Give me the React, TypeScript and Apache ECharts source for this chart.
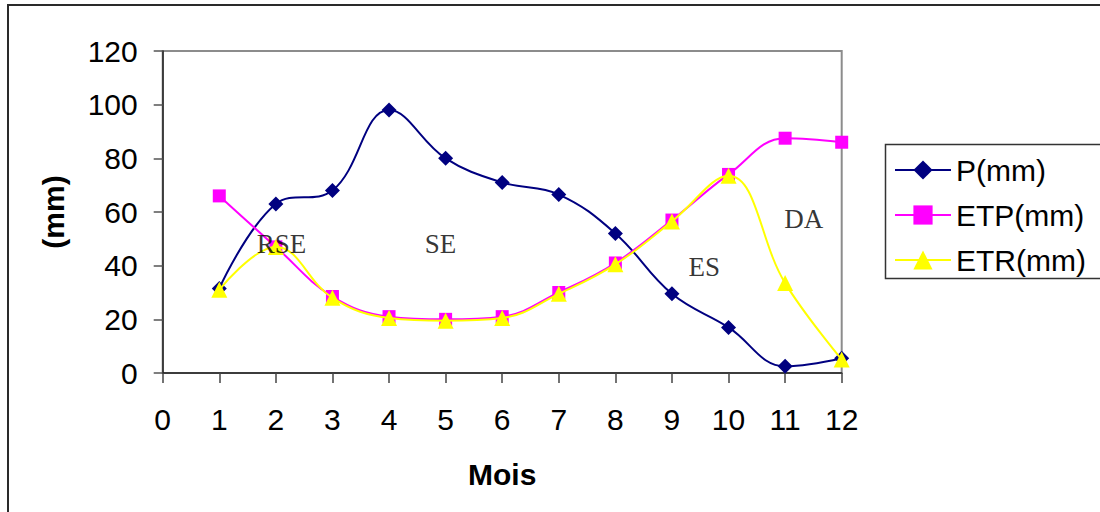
import React, { useEffect, useRef } from "react";
import * as echarts from "echarts";

const months = [1, 2, 3, 4, 5, 6, 7, 8, 9, 10, 11, 12];
const pValues = [31.5, 63, 68, 98, 80, 71, 66.5, 52, 29.5, 17, 2.5, 5.5];
const etpValues = [66, 47, 28.5, 21, 20, 21, 30, 41, 57, 74, 87.5, 86];
const etrValues = [31, 47, 28, 20.5, 19.5, 20.5, 29.5, 40.5, 56.5, 73.5, 33.5, 5];
const zoneLabels = ["RSE", "SE", "ES", "DA"];
const zoneX = [2.1, 4.91, 9.57, 11.33];
const zoneY = [48, 48, 39.5, 57.4];

const FONT = "'Liberation Sans', Arial, sans-serif";

export default function App() {
  const ref = useRef<HTMLDivElement>(null);
  useEffect(() => {
    document.body.style.margin = "0";
    if (!ref.current) return;
    const chart = echarts.init(ref.current, null, { renderer: "svg" });
    const pair = (vals: number[]) => months.map((m, i) => [m, vals[i]]);
    chart.setOption({
      animation: false,
      backgroundColor: "#ffffff",
      grid: {
        left: 162.7,
        right: 258.3,
        top: 51,
        bottom: 139,
        show: true,
        borderColor: "#8c8c8c",
        borderWidth: 2,
        containLabel: false,
      },
      xAxis: {
        type: "value",
        min: 0,
        max: 12,
        interval: 1,
        name: "Mois",
        nameLocation: "middle",
        nameGap: 86,
        nameTextStyle: { fontFamily: FONT, fontSize: 30, fontWeight: "bold", color: "#000" },
        axisLine: { lineStyle: { color: "#222", width: 1.5 } },
        axisTick: { show: true, length: 10, inside: false, lineStyle: { color: "#444", width: 1.5 } },
        axisLabel: { fontFamily: FONT, fontSize: 30, color: "#000", margin: 31 },
        splitLine: { show: false },
      },
      yAxis: {
        type: "value",
        min: 0,
        max: 120,
        interval: 20,
        name: "(mm)",
        nameLocation: "middle",
        nameGap: 94,
        nameRotate: 90,
        nameTextStyle: { fontFamily: FONT, fontSize: 30, fontWeight: "bold", color: "#000" },
        axisLine: { show: true, lineStyle: { color: "#222", width: 1.5 } },
        axisTick: { show: true, length: 9, lineStyle: { color: "#555", width: 1.5 } },
        axisLabel: { fontFamily: FONT, fontSize: 30, color: "#000", margin: 25 },
        splitLine: { show: false },
      },
      legend: {
        data: ["P(mm)", "ETP(mm)", "ETR(mm)"],
        orient: "vertical",
        left: 894,
        top: 155,
        itemWidth: 56,
        itemHeight: 24,
        itemGap: 15,
        padding: 0,
        textStyle: { fontFamily: FONT, fontSize: 30, color: "#000", lineHeight: 30 },
      },
      graphic: [
        {
          type: "rect",
          shape: { x: 8, y: 5, width: 1200, height: 600 },
          style: { fill: "none", stroke: "#2a2a2a", lineWidth: 2 },
          silent: true,
          z: 100,
        },
        {
          type: "rect",
          shape: { x: 885.5, y: 144.5, width: 300, height: 134 },
          style: { fill: "#fff", stroke: "#333", lineWidth: 1.5 },
          silent: true,
          z: 0,
        },
      ],
      series: [
        {
          name: "P(mm)",
          type: "line",
          data: pair(pValues),
          smooth: 0.4,
          symbol: "diamond",
          symbolSize: 15,
          itemStyle: { color: "#000080" },
          lineStyle: { color: "#000080", width: 2 },
          z: 3,
        },
        {
          name: "ETP(mm)",
          type: "line",
          data: pair(etpValues),
          smooth: 0.4,
          symbol: "rect",
          symbolSize: 13,
          itemStyle: { color: "#ff00ff" },
          lineStyle: { color: "#ff00ff", width: 2 },
          z: 4,
        },
        {
          name: "ETR(mm)",
          type: "line",
          data: pair(etrValues),
          smooth: 0.4,
          symbol: "triangle",
          symbolSize: 16,
          itemStyle: { color: "#ffff00" },
          lineStyle: { color: "#ffff00", width: 2 },
          z: 5,
        },
        {
          name: "zones",
          type: "scatter",
          data: zoneLabels.map((n, i) => ({ name: n, value: [zoneX[i], zoneY[i]] })),
          symbolSize: 0,
          z: 6,
          label: {
            show: true,
            position: "inside",
            formatter: (p: any) => p.name,
            fontFamily: "'Liberation Serif', 'Times New Roman', serif",
            fontSize: 27,
            color: "#000",
          },
        },
      ],
    });
    return () => chart.dispose();
  }, []);
  return <div ref={ref} style={{ width: 1100, height: 512 }} />;
}
